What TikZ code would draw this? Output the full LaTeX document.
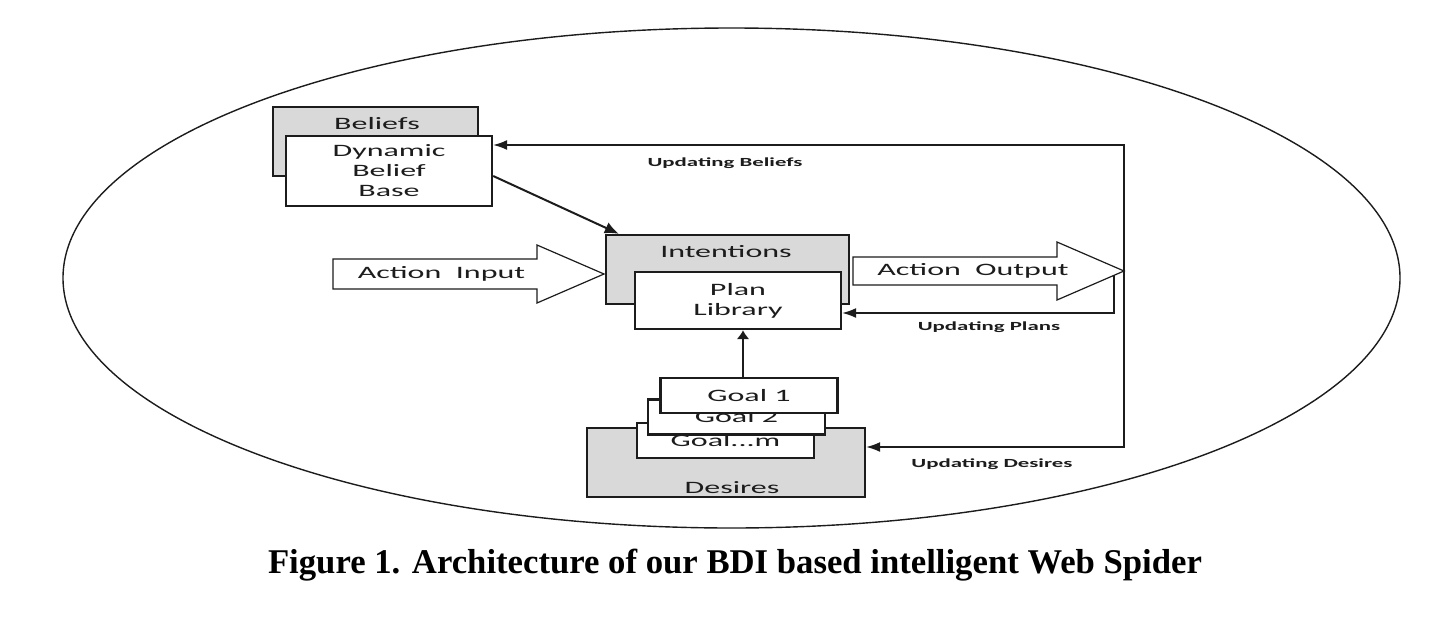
\documentclass[tikz,border=0pt]{standalone}
\usepackage{fontspec}
\setmainfont{Liberation Serif}
\newfontfamily\boxfont[FakeStretch=1.84]{Carlito}
\usepackage{tikz}
\usetikzlibrary{arrows.meta}

\definecolor{layergray}{RGB}{217,217,217}
\definecolor{ink}{RGB}{28,28,28}

\tikzset{
  layer/.style={draw=ink, line width=1.2pt, fill=layergray, inner sep=0pt},
  store/.style={draw=ink, line width=1.2pt, fill=white, inner sep=0pt, align=center,
    text=ink, font=\boxfont\fontsize{8.7}{10}\selectfont},
  goal/.style={store, minimum width=88.5pt, minimum height=17.5pt},
  boxtext/.style={anchor=base, inner sep=0pt, text=ink, font=\boxfont\fontsize{8.7}{10}\selectfont},
  tag/.style={anchor=base, inner sep=0pt, text=ink, font=\boxfont\bfseries\fontsize{6.2}{7}\selectfont},
  flow/.style={draw=ink, line width=0.6pt, fill=white},
  link/.style={draw=ink, line width=1pt, -{Latex[length=7pt,width=6pt]}},
  push/.style={draw=ink, line width=1.3pt, -{Latex[length=4.5pt,width=6.5pt]}},
  upd/.style={draw=ink, line width=0.7pt}
}

\begin{document}
\begin{tikzpicture}[x=0.5pt,y=-0.5pt]
  \useasboundingbox (0,0) rectangle (1430,616);
  \draw[line width=0.7pt, draw=ink] (731.5,278) ellipse [x radius=334.25pt, y radius=125pt];

  % beliefs
  \node[layer, minimum width=102.5pt, minimum height=34.5pt] (bel) at (375.5,141.5) {};
  \node[boxtext] (beltxt) at (377,129) {Beliefs};
  \node[store, minimum width=103pt, minimum height=35pt] (dbb) at (389,171) {Dynamic\\Belief\\Base};

  % intentions
  \node[layer, minimum width=121.5pt, minimum height=34.5pt] (int) at (727.5,269.5) {};
  \node[boxtext] (inttxt) at (726,257) {Intentions};
  \node[store, minimum width=103pt, minimum height=28.5pt] (plan) at (738,300.5) {Plan\\Library};

  % desires
  \node[layer, minimum width=139pt, minimum height=34.5pt] (des) at (726,462.5) {};
  \node[boxtext] (destxt) at (732,493) {Desires};
  \node[goal] (gm) at (725.5,440.5) {Goal...m};
  \node[goal] (g2) at (736.5,417) {Goal 2};
  \node[goal] (g1) at (749,395.5) {Goal 1};

  % action arrows
  \draw[flow] (333,259) -- (537,259) -- (537,245) -- (604,274) -- (537,303) -- (537,289) -- (333,289) -- cycle;
  \node[boxtext] (ain) at (441.5,278) {Action~~Input};
  \draw[flow] (853,257) -- (1057,257) -- (1057,242) -- (1124,271) -- (1057,300) -- (1057,285) -- (853,285) -- cycle;
  \node[boxtext] (aout) at (973,275) {Action~~Output};

  % links
  \draw[link] ([yshift=-2.5pt]dbb.east) -- ([xshift=7pt]int.north west);
  \draw[push] ([xshift=-3pt]g1.north) -- ([xshift=-3pt]g1.north |- plan.south);

  \coordinate (rt) at (1124,145);
  \coordinate (rb) at (1124,447);
  \draw[upd, {Latex[length=7pt,width=5pt]}-{Latex[length=7pt,width=5pt]}]
    (rt -| dbb.east) -- (rt) -- (rb) -- (rb -| des.east);
  \coordinate (up) at (1114,275.3);
  \coordinate (upc) at (1114,313);
  \draw[upd, -{Latex[length=7pt,width=5pt]}] (up) -- (upc) -- (upc -| plan.east);

  \node[tag] (ubel) at (725,166) {Updating Beliefs};
  \node[tag] (uplan) at (989,330) {Updating Plans};
  \node[tag] (udes) at (992,467) {Updating Desires};

  \node[anchor=base, inner sep=0pt, font=\bfseries\fontsize{17.35}{20}\selectfont] (fig) at (735,573)
    {Figure 1. Architecture of our BDI based intelligent Web Spider};
\end{tikzpicture}
\end{document}
